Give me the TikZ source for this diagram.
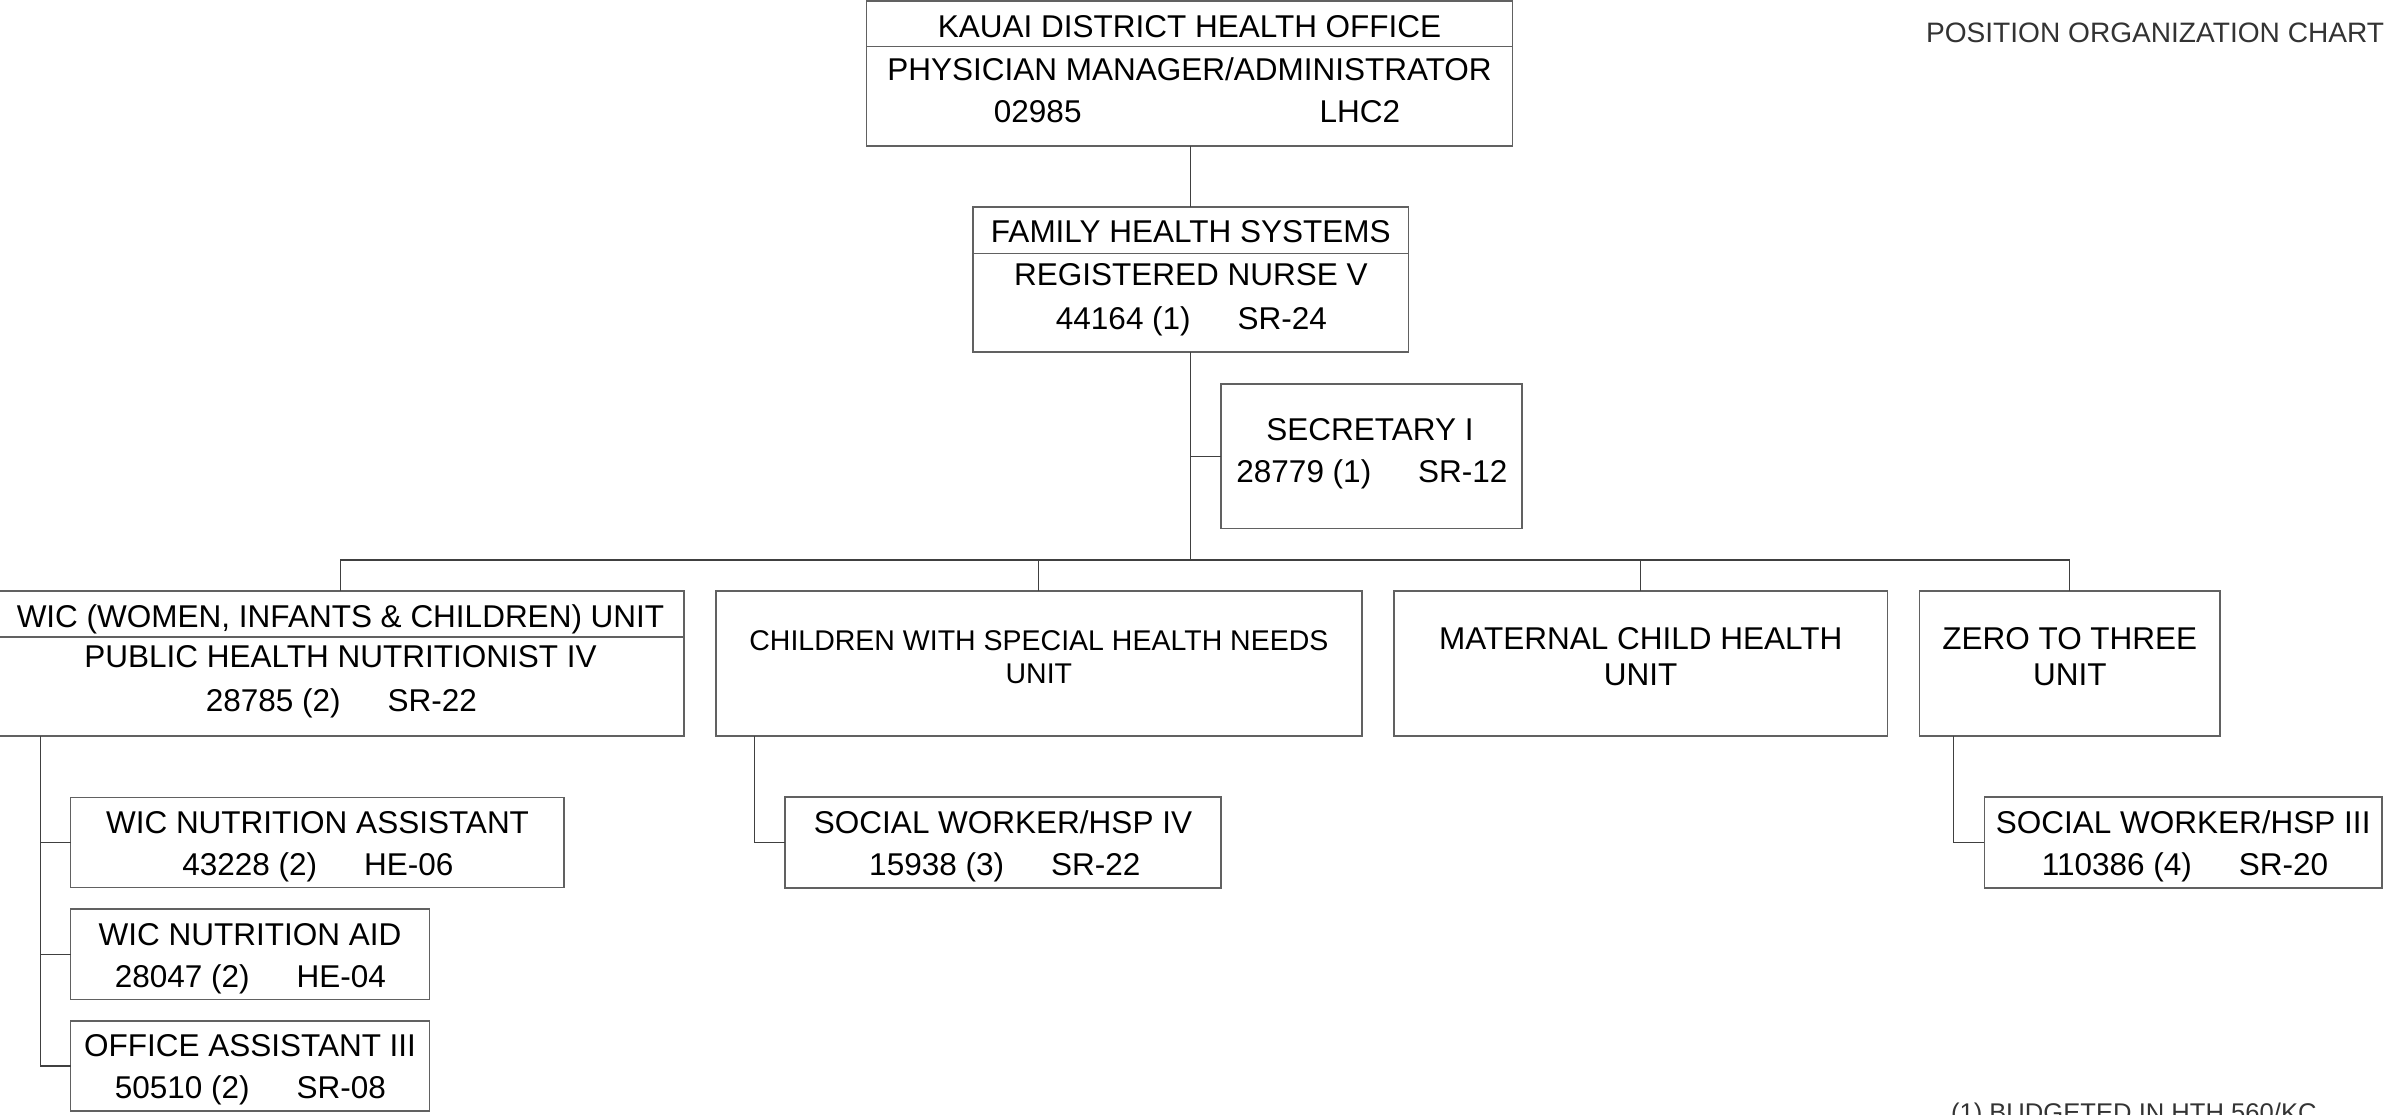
\documentclass[tikz,border=0pt]{standalone}
\usepackage{fontspec}
\setmainfont{Liberation Sans}
\begin{document}
\begin{tikzpicture}[x=1pt,y=-1pt,
  box/.style={draw=black!62,line width=1.6pt,rectangle,inner sep=0pt,outer sep=0pt},
  conn/.style={draw=black!75,line width=1.2pt},
  txt/.style={inner sep=0pt,outer sep=0pt,anchor=base,text=black,font=\fontsize{31.5}{38}\selectfont},
  stxt/.style={txt,font=\fontsize{28.5}{34}\selectfont},
  note/.style={inner sep=0pt,outer sep=0pt,text=black!80,font=\fontsize{28.1}{33}\selectfont}]
\useasboundingbox (0,0) rectangle (2387,1114);
% boxes
\node[box,minimum width=646.1pt,minimum height=144.7pt] (top) at (1189.55,73.35) {};
\node[box,minimum width=435.6pt,minimum height=145pt] (fhs) at (1190.8,279.5) {};
\node[box,minimum width=301pt,minimum height=144.6pt] (sec) at (1371.5,456.3) {};
\node[box,minimum width=687pt,minimum height=145.3pt] (wic) at (340.5,663.35) {};
\node[box,minimum width=646pt,minimum height=145.3pt] (cshn) at (1038.8,663.35) {};
\node[box,minimum width=493.4pt,minimum height=145.3pt] (mch) at (1640.7,663.35) {};
\node[box,minimum width=300.5pt,minimum height=145.3pt] (ztt) at (2069.75,663.35) {};
\node[box,minimum width=493.3pt,minimum height=89.9pt] (wicna) at (317.15,842.45) {};
\node[box,minimum width=359pt,minimum height=90.6pt] (aid) at (250,954.3) {};
\node[box,minimum width=359pt,minimum height=90pt] (oa) at (250,1066) {};
\node[box,minimum width=436pt,minimum height=90.7pt] (swiv) at (1003,842.35) {};
\node[box,minimum width=397.6pt,minimum height=90.7pt] (swiii) at (2183.2,842.35) {};
% dividers
\draw[box] (top.west |- 0,46.5) -- (top.east |- 0,46.5);
\draw[box] (fhs.west |- 0,253.4) -- (fhs.east |- 0,253.4);
\draw[box] (wic.west |- 0,637) -- (wic.east |- 0,637);
% connectors
\coordinate (busy) at (0,560);
\draw[conn] (fhs.north |- top.south) -- (fhs.north);
\draw[conn] (fhs.south) -- (fhs.south |- busy);
\draw[conn] (sec.west) -- (sec.west -| fhs.south);
\draw[conn] (wic.north) -- (wic.north |- busy) -- (ztt.north |- busy) -- (ztt.north);
\draw[conn] (cshn.north) -- (cshn.north |- busy);
\draw[conn] (mch.north) -- (mch.north |- busy);
\coordinate (wv) at ([xshift=43.2pt]wic.south west);
\draw[conn] (wv) |- (oa.west);
\draw[conn] (wv |- wicna.west) -- (wicna.west);
\draw[conn] (wv |- aid.west) -- (aid.west);
\coordinate (cv) at ([xshift=38.6pt]cshn.south west);
\draw[conn] (cv) |- (swiv.west);
\coordinate (zv) at ([xshift=34pt]ztt.south west);
\draw[conn] (zv) |- (swiii.west);
% texts
\node[txt] (t1a) at (1189.5,37.6) {KAUAI DISTRICT HEALTH OFFICE};
\node[txt] (t1b) at (1189.5,80.2) {PHYSICIAN MANAGER/ADMINISTRATOR};
\node[txt] (t1c) at (1197,122.3) {02985\hspace{238pt}LHC2};
\node[txt] (t2a) at (1190.8,242.9) {FAMILY HEALTH SYSTEMS};
\node[txt] (t2b) at (1190.8,285.9) {REGISTERED NURSE V};
\node[txt] (t2c) at (1191.5,329.3) {44164 (1)\hspace{47pt}SR-24};
\node[txt] (t3a) at (1370,440.9) {SECRETARY I};
\node[txt] (t3b) at (1372,482.7) {28779 (1)\hspace{47pt}SR-12};
\node[txt] (t4a) at (340.5,627) {WIC (WOMEN, INFANTS \& CHILDREN) UNIT};
\node[txt] (t4b) at (340.5,667.3) {PUBLIC HEALTH NUTRITIONIST IV};
\node[txt] (t4c) at (341.5,711.3) {28785 (2)\hspace{47pt}SR-22};
\node[stxt] (t5a) at (1038.9,650.9) {CHILDREN WITH SPECIAL HEALTH NEEDS};
\node[stxt] (t5b) at (1038.9,683.9) {UNIT};
\node[txt] (t6a) at (1640.7,649.8) {MATERNAL CHILD HEALTH};
\node[txt] (t6b) at (1640.7,685.8) {UNIT};
\node[txt] (t7a) at (2069.75,649.8) {ZERO TO THREE};
\node[txt] (t7b) at (2069.75,685.8) {UNIT};
\node[txt] (t8a) at (317.5,833.8) {WIC NUTRITION ASSISTANT};
\node[txt] (t8b) at (317.9,875.5) {43228 (2)\hspace{47pt}HE-06};
\node[txt] (t9a) at (250,945.3) {WIC NUTRITION AID};
\node[txt] (t9b) at (250.5,987) {28047 (2)\hspace{47pt}HE-04};
\node[txt] (t10a) at (250,1056.8) {OFFICE ASSISTANT III};
\node[txt] (t10b) at (250.5,1098.1) {50510 (2)\hspace{47pt}SR-08};
\node[txt] (t11a) at (1003,833.8) {SOCIAL WORKER/HSP IV};
\node[txt] (t11b) at (1004.8,875.5) {15938 (3)\hspace{47pt}SR-22};
\node[txt] (t12a) at (2183.2,833.8) {SOCIAL WORKER/HSP III};
\node[txt] (t12b) at (2185,875.5) {110386 (4)\hspace{47pt}SR-20};
\node[note,anchor=base east] (title) at (2384,42.3) {POSITION ORGANIZATION CHART};
\node[note,anchor=base west,font=\fontsize{25.6}{30}\selectfont] (foot) at (1951,1121.3) {(1) BUDGETED IN HTH 560/KC};
\end{tikzpicture}
\end{document}
